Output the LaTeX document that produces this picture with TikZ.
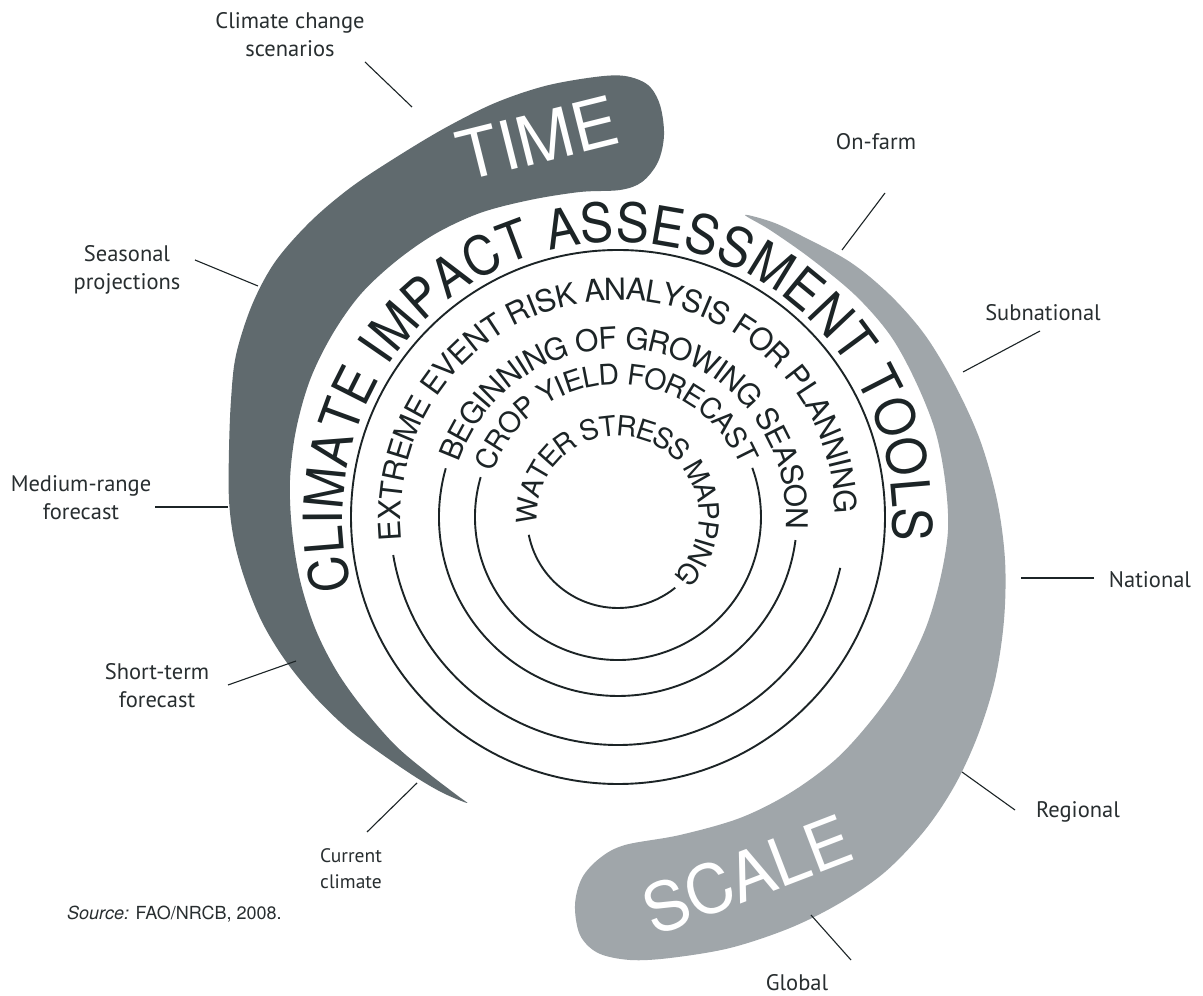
\documentclass[tikz,border=0pt]{standalone}
\usepackage{fontspec}
\setmainfont{TeX Gyre Heros}
\newfontfamily\heros{TeX Gyre Heros}
\newfontfamily\herosw[FakeStretch=0.92]{TeX Gyre Heros}
\newfontfamily\labelfont{PT Sans}
\usetikzlibrary{decorations.text}
\definecolor{timegray}{RGB}{96,106,110}
\definecolor{scalegray}{RGB}{160,166,170}
\definecolor{ink}{RGB}{28,36,38}
\definecolor{labelink}{RGB}{40,46,48}
\begin{document}
\begin{tikzpicture}[x=1pt,y=1pt,
  ring/.style={draw=ink, line width=1.9},
  lead/.style={draw=ink, line width=1.1},
  lbl/.style={font=\labelfont\fontsize{22.5}{28}\selectfont, text=labelink, align=center, inner sep=0},
  lblsmall/.style={font=\labelfont\fontsize{19.5}{26}\selectfont, text=labelink, align=center, inner sep=0},
  bandtext/.style={text=white, inner sep=0},
  ringtext/.style={decorate, decoration={text along path, text align={fit to path}, text color=ink}}
  ]
\useasboundingbox (0,0) rectangle (1203,996);
\fill[white] (0,0) rectangle (1203,996);

% ---------- bands, labels, leader lines (image coordinates) ----------
\begin{scope}[shift={(0,996)}, yscale=-1]
  \fill[timegray] plot[smooth cycle, tension=0.55] coordinates {
    (467,803) (443,793) (417,778) (383,755) (348,729) (315,697) (285,660)
    (262,622) (245,580) (234,540) (229,500) (229,450) (231,400) (236,355)
    (252,305) (275,262) (310,222) (350,188) (395,158) (445,128) (495,103)
    (545,86) (595,77) (625,76) (648,85) (660,105) (664,135) (658,162)
    (642,182) (620,190) (580,192) (530,200) (480,213) (435,234) (395,262)
    (360,295) (332,335) (310,380) (296,430) (290,480) (292,530) (300,580)
    (315,628) (336,670) (362,707) (395,745) (428,773) (458,796)};
  \fill[scalegray] plot[smooth cycle, tension=0.55] coordinates {
    (745,215) (772,222) (800,235) (850,262) (890,295) (925,335) (955,385)
    (980,440) (997,500) (1005,560) (1004,620) (995,680) (978,735) (955,785)
    (925,830) (885,872) (840,903) (790,928) (730,948) (670,958) (630,960)
    (598,953) (580,935) (575,905) (582,878) (600,858) (625,845) (680,835)
    (740,818) (790,793) (835,760) (870,722) (900,680) (925,630) (940,580)
    (948,530) (945,480) (935,430) (915,380) (890,335) (855,295) (810,258)
    (770,230)};

  % labels
  \node[lbl] (cc) at (290,35) {Climate change\\scenarios};
  \node[lbl] (sp) at (127,270) {Seasonal\\projections};
  \node[lbl] (mr) at (81,498) {Medium-range\\forecast};
  \node[lbl] (st) at (157,686) {Short-term\\forecast};
  \node[lblsmall] (cu) at (351,869) {Current\\climate};
  \node[lbl] (of) at (876,142) {On-farm};
  \node[lbl] (sn) at (1043,313) {Subnational};
  \node[lbl] (na) at (1150,580) {National};
  \node[lbl] (re) at (1078,812) {Regional};
  \node[lbl] (gl) at (797,983) {Global};

  % leader line end points
  \coordinate (cc1) at (365,62);   \coordinate (cc2) at (412,107);
  \coordinate (sp1) at (195,260);  \coordinate (sp2) at (258,286);
  \coordinate (mr1) at (155,507);  \coordinate (mr2) at (228,507);
  \coordinate (st1) at (228,685);  \coordinate (st2) at (296,661);
  \coordinate (cu1) at (367,832);  \coordinate (cu2) at (417,783);
  \coordinate (of1) at (885,193);  \coordinate (of2) at (842,250);
  \coordinate (sn1) at (1040,331); \coordinate (sn2) at (963,372);
  \coordinate (na1) at (1094,578); \coordinate (na2) at (1021,578);
  \coordinate (re1) at (1015,810); \coordinate (re2) at (962,772);
  \coordinate (gl1) at (851,960);  \coordinate (gl2) at (811,915);
  \foreach \p in {cc,sp,mr,st,cu,of,sn,na,re,gl}{
    \draw[lead] (\p1) -- (\p2);
  }

  \node[anchor=base west, inner sep=0, text=labelink,
        font=\heros\fontsize{18}{18}\selectfont] (src) at (67,920)
        {\textit{Source:} FAO/NRCB, 2008.};
\end{scope}

% ---------- band titles ----------
\node[bandtext, rotate=14, font=\heros\fontsize{68}{68}\selectfont] (time) at (537.5,858) {TIME};
\node[bandtext, rotate=21, font=\heros\fontsize{67}{67}\selectfont] (scale) at (747,121) {SCALE};

% ---------- concentric rings ----------
\begin{scope}[shift={(618,479)}]
  \coordinate (c) at (0,0);
  \draw[ring] (c) circle[radius=267];
  \draw[ring] (191.3:91) arc[start angle=191.3, end angle=309, radius=91];
  \draw[ring] (163.8:143) arc[start angle=163.8, end angle=380.1, radius=143];
  \draw[ring] (164.2:179) arc[start angle=164.2, end angle=352.6, radius=179];
  \draw[ring] (189.6:228) arc[start angle=189.6, end angle=347.1, radius=228];

  \path[ringtext, decoration={raise=-10pt,
     text={|\heros\fontsize{28}{28}\selectfont|WATER STRESS MAPPING}}]
     (184:91) arc[start angle=184, end angle=-46, radius=91];
  \path[ringtext, decoration={raise=-10.2pt,
     text={|\heros\fontsize{28.5}{28.5}\selectfont|CROP YIELD FORECAST}}]
     (160:143) arc[start angle=160, end angle=23, radius=143];
  \path[ringtext, decoration={raise=-10.8pt,
     text={|\heros\fontsize{30}{30}\selectfont|BEGINNING OF GROWING SEASON}}]
     (161:179) arc[start angle=161, end angle=-4, radius=179];
  \path[ringtext, decoration={raise=-10.9pt,
     text={|\heros\fontsize{30.5}{30.5}\selectfont|EXTREME EVENT RISK ANALYSIS FOR PLANNING}}]
     (186:228) arc[start angle=186, end angle=1, radius=228];
  \path[ringtext, decoration={raise=0pt,
     text={|\herosw\fontsize{54}{54}\selectfont|CLIMATE IMPACT ASSESSMENT TOOLS}}]
     (195:275) arc[start angle=195, end angle=-5, radius=275];
\end{scope}
\end{tikzpicture}
\end{document}
